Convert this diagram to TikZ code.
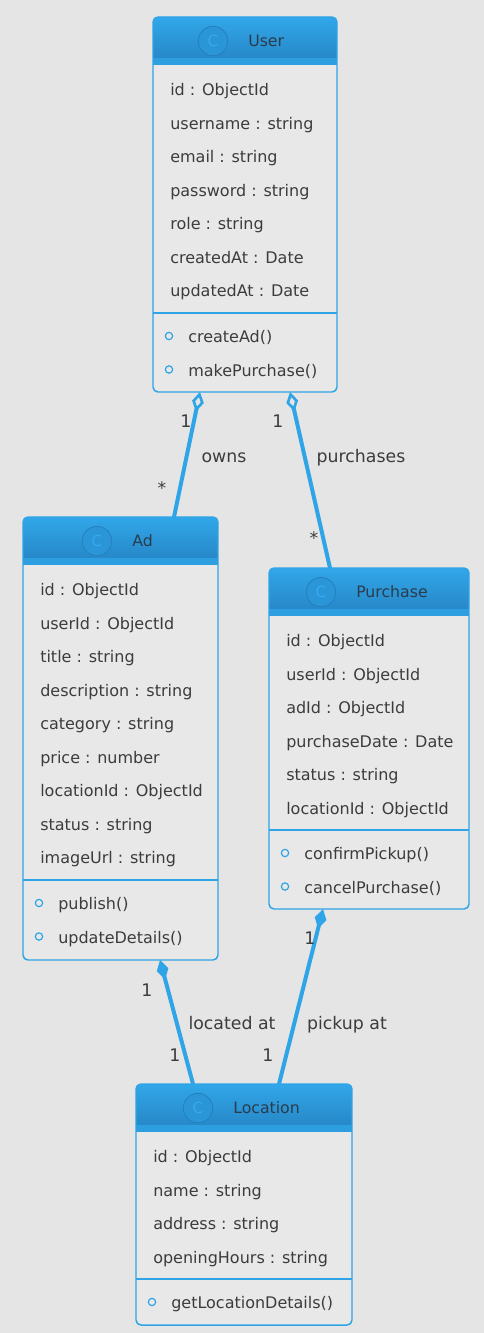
\documentclass[tikz,border=0pt]{standalone}
\usepackage{fontspec}
\setmainfont{DejaVu Sans}
\usetikzlibrary{arrows.meta,calc}
\definecolor{bgc}{HTML}{E5E5E5}
\definecolor{bodyc}{HTML}{E8E8E8}
\definecolor{bluec}{HTML}{2FA4E7}
\definecolor{hdtop}{HTML}{31A7E9}
\definecolor{hdbot}{HTML}{2788C8}
\definecolor{stripec}{HTML}{2D9EE0}
\definecolor{circfill}{HTML}{2A96D8}
\definecolor{circline}{HTML}{2580BD}
\definecolor{ctext}{HTML}{36A9EC}
\definecolor{txt}{HTML}{3C3C3C}
\definecolor{ttl}{HTML}{2B3C4C}
\newcommand\umlhead[3]{%
  \begin{scope}
    \clip[rounded corners=3.75pt] (#1.north west) rectangle (#1.south east);
    \shade[top color=hdtop,bottom color=hdbot] (#1.north west) rectangle ($(#1.north east)+(0,41)$);
    \fill[stripec] ($(#1.north west)+(0,41)$) rectangle ($(#1.north east)+(0,48)$);
  \end{scope}
  \draw[border, rounded corners=3.75pt] (#1.north west) rectangle (#1.south east);
  \node[circ] (#1-c) at ($(#1.north west)+(#3,24)$) {C};
  \node[title] (#1-t) at ($(#1-c.center)+(35,2)$) {#2};
}
\newcommand\umlbody[4]{%
  \draw[border] ($(#1.north west)+(0,#2)$) -- ($(#1.north east)+(0,#2)$);
  \foreach \t [count=\i from 0] in {#3}
    \node[attr] (#1-a\i) at ($(#1.north west)+(17,75+33.5*\i)$) {\t};
  \foreach \t [count=\i from 0] in {#4} {
    \node[bullet] (#1-b\i) at ($(#1.north west)+(16,#2+23+33.5*\i)$) {};
    \node[attr] (#1-m\i) at ($(#1.north west)+(35,#2+26+33.5*\i)$) {\t};
  }
}
\begin{document}
\begin{tikzpicture}[x=0.75pt,y=-0.75pt,
  classbody/.style={draw=none, fill=bodyc, rounded corners=3.75pt, anchor=north west, inner sep=0pt, outer sep=0pt},
  border/.style={draw=bluec, line width=1.1pt},
  circ/.style={circle, draw=circline, line width=0.6pt, fill=circfill, minimum size=22pt, inner sep=0pt, text=ctext, font=\fontsize{11.5}{12}\selectfont},
  title/.style={anchor=mid west, inner sep=0pt, text=ttl, font=\fontsize{11.8}{14}\selectfont},
  attr/.style={anchor=mid west, inner sep=0pt, text=txt, font=\fontsize{12}{14}\selectfont},
  bullet/.style={circle, draw=bluec, line width=0.9pt, minimum size=5.5pt, inner sep=0pt},
  assoc/.style={draw=bluec, line width=3pt},
  lbl/.style={anchor=mid, inner sep=0pt, text=txt, font=\fontsize{13}{15}\selectfont},
  num/.style={anchor=center, inner sep=0pt, text=txt, font=\fontsize{13}{15}\selectfont},
  odia/.style={{Diamond[open,length=15pt,width=9pt,line width=2pt]}-},
  fdia/.style={{Diamond[length=15pt,width=9pt]}-}
]
\useasboundingbox (0,0) rectangle (484,1333);
\fill[bgc] (0,0) rectangle (484,1333);

% User
\node[classbody, minimum width=138pt, minimum height=281.25pt] (user) at (153,17) {};
\umlhead{user}{User}{60}
\umlbody{user}{296}{id : ObjectId, username : string, email : string, password : string, role : string, createdAt : Date, updatedAt : Date}{createAd(), makePurchase()}

% Ad
\node[classbody, minimum width=146.25pt, minimum height=332.25pt] (ad) at (23,517) {};
\umlhead{ad}{Ad}{74}
\umlbody{ad}{363}{id : ObjectId, userId : ObjectId, title : string, description : string, category : string, price : number, locationId : ObjectId, status : string, imageUrl : string}{publish(), updateDetails()}

% Purchase
\node[classbody, minimum width=150pt, minimum height=255.75pt] (purchase) at (269,568) {};
\umlhead{purchase}{Purchase}{52}
\umlbody{purchase}{262}{id : ObjectId, userId : ObjectId, adId : ObjectId, purchaseDate : Date, status : string, locationId : ObjectId}{confirmPickup(), cancelPurchase()}

% Location
\node[classbody, minimum width=162pt, minimum height=180.75pt] (location) at (136,1084) {};
\umlhead{location}{Location}{62}
\umlbody{location}{195}{id : ObjectId, name : string, address : string, openingHours : string}{getLocationDetails()}

% connectors
\draw[assoc, odia] ($(user.south west)+(47,0)$) -- ($(ad.north west)+(151,0)$);
\draw[assoc, odia] ($(user.south west)+(137,0)$) -- ($(purchase.north west)+(61,0)$);
\draw[assoc, fdia] ($(ad.south west)+(137,0)$) -- ($(location.north west)+(57,0)$);
\draw[assoc, fdia] ($(purchase.south west)+(54,0)$) -- ($(location.north west)+(143,0)$);

% labels
\node[num] (m1) at (186,421) {1};
\node[num] (m2) at (162,488) {*};
\node[lbl] (l1) at (224,459) {owns};
\node[num] (m3) at (278,421) {1};
\node[num] (m4) at (314,538) {*};
\node[lbl] (l2) at (361,459) {purchases};
\node[num] (m5) at (147,990) {1};
\node[num] (m6) at (175,1055) {1};
\node[lbl] (l3) at (232,1026) {located at};
\node[num] (m7) at (310,938) {1};
\node[num] (m8) at (268,1055) {1};
\node[lbl] (l4) at (347,1026) {pickup at};
\end{tikzpicture}
\end{document}
